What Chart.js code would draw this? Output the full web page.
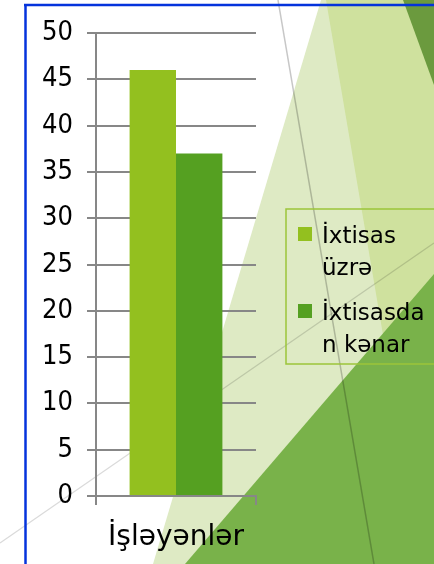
<!DOCTYPE html>
<html>
<head>
<meta charset="utf-8">
<script src="https://cdn.jsdelivr.net/npm/chart.js@4/dist/chart.umd.min.js"></script>
<style>
  html, body { margin: 0; padding: 0; background: #fff; }
  #wrap { width: 434px; height: 564px; position: relative; }
</style>
</head>
<body>
<div id="wrap"><canvas id="chart"></canvas></div>
<script>
// data
const categories = ["İşləyənlər"];
const seriesNames = ["İxtisas üzrə", "İxtisasdan kənar"];
const seriesValues = [[46], [37]];
const seriesColors = ["#93c01f", "#55a021"];
const yMin = 0, yMax = 50, yStep = 5;

const FONT = "'DejaVu Sans', sans-serif";
const TICK_FONT = "'DejaVu Sans Condensed', 'DejaVu Sans', sans-serif";
const gridColor = "#878787";

// slide background (theme triangles + frame)
const backdrop = {
  id: "backdrop",
  beforeDraw(chart) {
    const ctx = chart.ctx;
    const W = chart.width, H = chart.height;
    const poly = (pts, fill) => {
      ctx.beginPath();
      ctx.moveTo(pts[0][0], pts[0][1]);
      pts.slice(1).forEach(p => ctx.lineTo(p[0], p[1]));
      ctx.closePath();
      ctx.fillStyle = fill;
      ctx.fill();
    };
    const line = (a, b, col, w) => {
      ctx.beginPath();
      ctx.moveTo(a[0], a[1]);
      ctx.lineTo(b[0], b[1]);
      ctx.strokeStyle = col;
      ctx.lineWidth = w;
      ctx.stroke();
    };
    ctx.save();
    ctx.fillStyle = "#fff";
    ctx.fillRect(0, 0, W, H);
    poly([[321, 0], [W, 0], [W, H], [153, H]], "#deeac4");
    poly([[326, 0], [W, 0], [W, H], [422, H]], "#cfe19e");
    poly([[403, 0], [W, 0], [W, 85]], "#6b9a3e");
    poly([[W, 274], [W, H], [185, H]], "#79b24a");
    line([278, 0], [374, H], "rgba(0,0,0,0.22)", 1.5);
    line([0, 543], [W, 243], "rgba(0,0,0,0.15)", 1.2);
    // chart frame
    line([25.5, 4], [25.5, H], "#0433dc", 2.5);
    line([24, 5], [W, 5], "#0433dc", 2.5);
    ctx.restore();
  }
};

// boxed legend on the right, wrapped to the box width
function wrapText(ctx, text, maxW) {
  const out = [];
  let cur = "";
  text.split(" ").forEach(word => {
    const tryLine = cur ? cur + " " + word : word;
    if (ctx.measureText(tryLine).width <= maxW) { cur = tryLine; return; }
    if (cur) { out.push(cur); cur = ""; }
    let piece = "";
    for (const ch of word) {
      if (ctx.measureText(piece + ch).width > maxW && piece) { out.push(piece); piece = ch; }
      else piece += ch;
    }
    cur = piece;
  });
  if (cur) out.push(cur);
  return out;
}

const boxLegend = {
  id: "boxLegend",
  afterDraw(chart) {
    const ctx = chart.ctx;
    const bx = 286, by = 209, bw = 150, bh = 155;
    ctx.save();
    ctx.strokeStyle = "#9cc53a";
    ctx.lineWidth = 1.5;
    ctx.strokeRect(bx, by, bw, bh);
    ctx.font = "23px " + FONT;
    ctx.fillStyle = "#000";
    ctx.textBaseline = "alphabetic";
    let base = 243;
    chart.data.datasets.forEach(ds => {
      const lines = wrapText(ctx, ds.label, 108);
      ctx.fillStyle = ds.backgroundColor;
      ctx.fillRect(298, base - 16, 14, 14);
      ctx.fillStyle = "#000";
      lines.forEach((t, i) => ctx.fillText(t, 322, base + i * 32));
      base += lines.length * 32 + 13;
    });
    ctx.restore();
  }
};

new Chart(document.getElementById("chart"), {
  type: "bar",
  data: {
    labels: categories,
    datasets: seriesNames.map((name, i) => ({
      label: name,
      data: seriesValues[i],
      backgroundColor: seriesColors[i],
      borderWidth: 0,
      categoryPercentage: 0.58,
      barPercentage: 1,
    })),
  },
  options: {
    responsive: true,
    maintainAspectRatio: false,
    animation: false,
    layout: { padding: { top: 33, right: 178, bottom: 0, left: 0 } },
    plugins: {
      legend: { display: false },
      tooltip: { enabled: false },
    },
    scales: {
      x: {
        offset: true,
        grid: {
          offset: true,
          drawOnChartArea: false,
          drawTicks: true,
          tickLength: 9,
          color: gridColor,
          lineWidth: 2,
        },
        border: { display: true, color: gridColor, width: 2 },
        ticks: {
          color: "#000",
          font: { family: FONT, size: 28 },
          padding: 16,
        },
        afterFit: s => { s.height = 68; },
      },
      y: {
        min: yMin,
        max: yMax,
        ticks: {
          stepSize: yStep,
          color: "#000",
          font: { family: TICK_FONT, size: 27 },
          padding: 14,
        },
        grid: {
          color: gridColor,
          lineWidth: 2,
          tickLength: 9,
        },
        border: { display: true, color: gridColor, width: 2 },
        afterFit: s => { s.width = 96; },
      },
    },
  },
  plugins: [backdrop, boxLegend],
});
</script>
</body>
</html>
